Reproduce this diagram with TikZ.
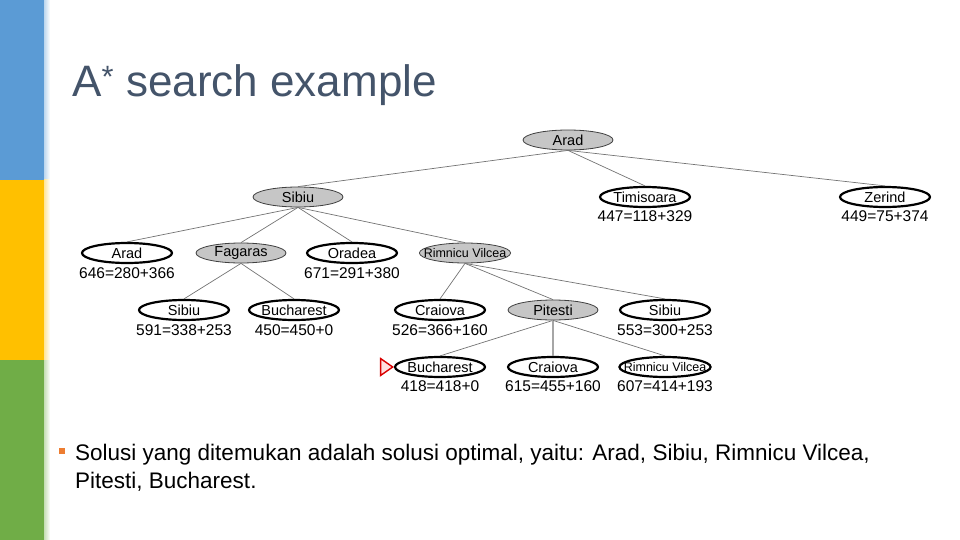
\documentclass[tikz,border=0pt]{standalone}
\usepackage{fontspec}
\setmainfont{Liberation Sans}
\usetikzlibrary{shapes.geometric, positioning}

\definecolor{barblue}{HTML}{5B9BD5}
\definecolor{baryellow}{HTML}{FFC000}
\definecolor{bargreen}{HTML}{70AD47}
\definecolor{titleslate}{HTML}{44546A}
\definecolor{bulletorange}{HTML}{ED7D31}

\begin{document}
\begin{tikzpicture}[x=1pt, y=-1pt,
    expanded/.style={ellipse, draw=black!75, fill=gray!45, line width=0.8pt, minimum width=90pt, minimum height=20pt, inner ysep=0pt, inner xsep=-4pt, font=\fontsize{14.5}{14.5}\selectfont},
    fringe/.style={ellipse, draw=black, fill=white, line width=2.2pt, minimum width=90pt, minimum height=20pt, inner ysep=0pt, inner xsep=-4pt, font=\fontsize{14.5}{14.5}\selectfont},
    small/.style={inner xsep=-9pt, font=\fontsize{12.5}{12.5}\selectfont},
    cost/.style={inner sep=0pt, font=\fontsize{15.5}{15.5}\selectfont},
    edge/.style={draw=gray!90!black, line width=0.7pt}
]
\useasboundingbox (0,0) rectangle (960,540);

% Side bar
\fill[barblue] (0,0) rectangle (44,180);
\fill[baryellow] (0,180) rectangle (44,360);
\fill[bargreen] (0,360) rectangle (44,540);
\shade[left color=barblue!40, right color=white] (44,0) rectangle (50,180);
\shade[left color=baryellow!40, right color=white] (44,180) rectangle (50,360);
\shade[left color=bargreen!40, right color=white] (44,360) rectangle (50,540);

% Title
\node[anchor=base west, inner sep=0pt, text=titleslate, font=\fontsize{44}{44}\selectfont] (title) at (72,97) {A\textsuperscript{*} search example};

% Level 1 and 2
\node[expanded] (arad) at (568,140) {Arad};
\node[expanded] (sibiu) at (298,197) {Sibiu};
\node[fringe] (timisoara) at (645,197) {Timisoara};
\node[fringe] (zerind) at (885,197) {Zerind};

% Level 3
\node[fringe] (arad2) at (127,253) {Arad};
\node[expanded] (fagaras) at (241,253) {Fagaras};
\node[fringe] (oradea) at (352,253) {Oradea};
\node[expanded, small] (rimnicu) at (465,253) {Rimnicu Vilcea};

% Level 4
\node[fringe] (sibiu2) at (184,310) {Sibiu};
\node[fringe] (bucharest) at (294,310) {Bucharest};
\node[fringe] (craiova) at (440,310) {Craiova};
\node[expanded] (pitesti) at (553,310) {Pitesti};
\node[fringe] (sibiu3) at (665,310) {Sibiu};

% Level 5
\node[fringe] (bucharest2) at (440,367) {Bucharest};
\node[fringe] (craiova2) at (553,367) {Craiova};
\node[fringe, small] (rimnicu2) at (665,367) {Rimnicu Vilcea};
\node[isosceles triangle, isosceles triangle apex angle=70, draw=red!85!black, fill=red!12, line width=1.4pt, minimum size=12pt, inner sep=0pt, left=0pt of bucharest2] (goal) {};

% f = g + h
\node[cost] (timisoara-f) at (645,216) {447=118+329};
\node[cost] (zerind-f) at (885,216) {449=75+374};
\node[cost] (arad2-f) at (127,273) {646=280+366};
\node[cost] (oradea-f) at (352,273) {671=291+380};
\node[cost] (sibiu2-f) at (184,330) {591=338+253};
\node[cost] (bucharest-f) at (294,330) {450=450+0};
\node[cost] (craiova-f) at (440,330) {526=366+160};
\node[cost] (sibiu3-f) at (665,330) {553=300+253};
\node[cost] (bucharest2-f) at (440,386) {418=418+0};
\node[cost] (craiova2-f) at (553,386) {615=455+160};
\node[cost] (rimnicu2-f) at (665,386) {607=414+193};

% Edges
\draw[edge] (arad.south) -- (sibiu.north);
\draw[edge] (arad.south) -- (timisoara.north);
\draw[edge] (arad.south) -- (zerind.north);
\foreach \kid in {arad2, fagaras, oradea, rimnicu}
  \draw[edge] (sibiu.south) -- (\kid.north);
\draw[edge] (fagaras.south) -- (sibiu2.north);
\draw[edge] (fagaras.south) -- (bucharest.north);
\foreach \kid in {craiova, pitesti, sibiu3}
  \draw[edge] (rimnicu.south) -- (\kid.north);
\draw[edge] (pitesti.south) -- (bucharest2.north);
\draw[edge, draw=gray!70, line width=1.5pt] (pitesti.south) -- (craiova2.north);
\draw[edge] (pitesti.south) -- (rimnicu2.north);

% Conclusion
\fill[bulletorange] (59,448) rectangle (65,454);
\node[anchor=north west, inner sep=0pt, align=left, font=\fontsize{22.5}{28}\selectfont] (answer) at (75,444) {Solusi yang ditemukan adalah solusi optimal, yaitu: Arad, Sibiu, Rimnicu Vilcea,\\Pitesti, Bucharest.};
\end{tikzpicture}
\end{document}
